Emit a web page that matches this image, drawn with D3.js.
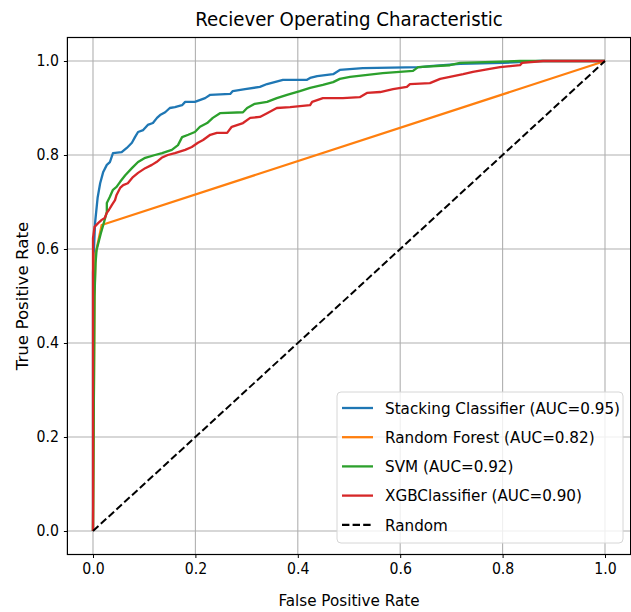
<!DOCTYPE html>
<html>
<head>
<meta charset="utf-8">
<script src="https://cdn.jsdelivr.net/npm/d3@7"></script>
<style>
    body { margin: 0; background: #fff; }
    svg text { font-family: "DejaVu Sans", sans-serif; fill: #000; }
</style>
</head>
<body>
<svg id="vis" width="631" height="612"></svg>
<script>
/**
 * ROC curves for four classifiers plus the chance diagonal
 */

// plot box edges in px
const MARGINS = {top: 37.5, right: 0.4, bottom: 57.5, left: 67.4};

// horizontal text narrowing, the figure is squeezed sideways
const TEXT_SQUEEZE = 0.91;

const TICKS = [0, 0.2, 0.4, 0.6, 0.8, 1.0];

// fpr / tpr pairs per model
const STACKING_FPR = [0, 0, 0.004, 0.009, 0.014, 0.020, 0.027, 0.033, 0.039, 0.056, 0.066, 0.076, 0.082, 0.088, 0.098, 0.107, 0.117, 0.125, 0.131, 0.141, 0.150, 0.160, 0.174, 0.180, 0.199, 0.219, 0.229, 0.268, 0.273, 0.297, 0.326, 0.340, 0.371, 0.418, 0.424, 0.438, 0.469, 0.482, 0.527, 0.639, 0.658, 0.717, 0.801, 0.873, 1];
const STACKING_TPR = [0, 0.55, 0.655, 0.709, 0.740, 0.764, 0.779, 0.785, 0.804, 0.806, 0.815, 0.826, 0.838, 0.849, 0.853, 0.864, 0.868, 0.879, 0.885, 0.891, 0.900, 0.902, 0.906, 0.913, 0.913, 0.921, 0.928, 0.930, 0.936, 0.940, 0.945, 0.951, 0.960, 0.960, 0.964, 0.968, 0.972, 0.981, 0.985, 0.987, 0.989, 0.994, 0.996, 1.0, 1];

const FOREST_FPR = [0, 0.003, 0.005, 0.017, 1];
const FOREST_TPR = [0, 0.50, 0.59, 0.651, 1];

const SVM_FPR = [0, 0.003, 0.005, 0.007, 0.012, 0.016, 0.020, 0.027, 0.027, 0.033, 0.039, 0.046, 0.053, 0.063, 0.076, 0.088, 0.102, 0.121, 0.135, 0.154, 0.166, 0.174, 0.186, 0.199, 0.209, 0.223, 0.234, 0.248, 0.293, 0.301, 0.316, 0.340, 0.359, 0.379, 0.404, 0.424, 0.449, 0.469, 0.482, 0.502, 0.566, 0.625, 0.635, 0.697, 0.717, 0.834, 1];
const SVM_TPR = [0, 0.50, 0.570, 0.598, 0.619, 0.636, 0.651, 0.679, 0.698, 0.711, 0.726, 0.732, 0.743, 0.757, 0.772, 0.785, 0.794, 0.800, 0.804, 0.811, 0.821, 0.838, 0.843, 0.849, 0.860, 0.868, 0.879, 0.889, 0.891, 0.900, 0.909, 0.913, 0.921, 0.928, 0.936, 0.943, 0.949, 0.955, 0.962, 0.966, 0.974, 0.979, 0.987, 0.991, 0.996, 1.0, 1];

const XGB_FPR = [0, 0, 0.003, 0.010, 0.017, 0.023, 0.027, 0.031, 0.037, 0.043, 0.046, 0.053, 0.059, 0.068, 0.078, 0.088, 0.102, 0.115, 0.124, 0.134, 0.146, 0.160, 0.180, 0.193, 0.205, 0.215, 0.229, 0.242, 0.262, 0.271, 0.293, 0.307, 0.326, 0.340, 0.359, 0.385, 0.424, 0.428, 0.449, 0.488, 0.521, 0.535, 0.561, 0.586, 0.613, 0.619, 0.658, 0.678, 0.697, 0.723, 0.742, 0.775, 0.795, 0.834, 0.838, 0.879, 1];
const XGB_TPR = [0, 0.623, 0.647, 0.655, 0.662, 0.666, 0.677, 0.683, 0.694, 0.704, 0.715, 0.730, 0.736, 0.740, 0.753, 0.762, 0.772, 0.779, 0.785, 0.794, 0.800, 0.804, 0.811, 0.817, 0.826, 0.832, 0.843, 0.847, 0.847, 0.860, 0.868, 0.879, 0.881, 0.889, 0.900, 0.902, 0.906, 0.913, 0.921, 0.921, 0.923, 0.932, 0.934, 0.940, 0.945, 0.951, 0.953, 0.962, 0.966, 0.972, 0.977, 0.983, 0.987, 0.991, 0.996, 1.0, 1];

const RANDOM_FPR = [0, 1];
const RANDOM_TPR = [0, 1];

const SERIES_NAMES = ["Stacking Classifier", "Random Forest", "SVM", "XGBClassifier"];
const SERIES_AUC = [0.95, 0.82, 0.92, 0.90];
const COLORS = ["#1f77b4", "#ff7f0e", "#2ca02c", "#d62728"];

/**
 * Narrow each text horizontally around its own x anchor
 */
function squeeze(sel){
    sel.each(function(){
        var t = d3.select(this);
        var x = +t.attr("x") || 0;
        t.attr("transform", `translate(${x * (1 - TEXT_SQUEEZE)},0) scale(${TEXT_SQUEEZE},1)`);
    });
}

var RocChart = function(){
    this.width = 631;
    this.height = 612;
    this.svgContainer;

    this.xScale;
    this.yScale;

    this.setupScales = function(){
        this.xScale = d3.scaleLinear()
            .domain([-0.05, 1.05])
            .range([MARGINS.left, this.width - MARGINS.right]);
        this.yScale = d3.scaleLinear()
            .domain([-0.05, 1.05])
            .range([this.height - MARGINS.bottom, MARGINS.top]);
    };

    this.setupAxes = function(){
        var plotW = this.width - MARGINS.left - MARGINS.right;
        var plotH = this.height - MARGINS.top - MARGINS.bottom;

        // grid lines sit under the curves
        var grid = this.svgContainer.append("g").attr("class", "grid");
        grid.selectAll("line.gx")
            .data(TICKS)
            .enter().append("line")
            .attr("x1", d => this.xScale(d)).attr("x2", d => this.xScale(d))
            .attr("y1", MARGINS.top).attr("y2", this.height - MARGINS.bottom)
            .style("stroke", "#b0b0b0").style("stroke-width", 1.1);
        grid.selectAll("line.gy")
            .data(TICKS)
            .enter().append("line")
            .attr("y1", d => this.yScale(d)).attr("y2", d => this.yScale(d))
            .attr("x1", MARGINS.left).attr("x2", this.width - MARGINS.right)
            .style("stroke", "#b0b0b0").style("stroke-width", 1.1);

        var xAxis = d3.axisBottom(this.xScale)
            .tickValues(TICKS)
            .tickFormat(d3.format(".1f"))
            .tickSize(3.5)
            .tickPadding(5);
        var yAxis = d3.axisLeft(this.yScale)
            .tickValues(TICKS)
            .tickFormat(d3.format(".1f"))
            .tickSize(3.5)
            .tickPadding(5);

        var gx = this.svgContainer.append("g")
            .attr("transform", `translate(0, ${this.height - MARGINS.bottom})`)
            .call(xAxis);
        var gy = this.svgContainer.append("g")
            .attr("transform", `translate(${MARGINS.left}, 0)`)
            .call(yAxis);
        [gx, gy].forEach(function(g){
            g.select(".domain").remove();
            g.selectAll("text").style("font-size", "15.5px").call(squeeze);
            g.selectAll("line").style("stroke", "#000").style("stroke-width", 1);
        });

        // axes frame
        this.svgContainer.append("rect")
            .attr("x", MARGINS.left).attr("y", MARGINS.top)
            .attr("width", plotW).attr("height", plotH)
            .style("fill", "none").style("stroke", "#000").style("stroke-width", 1.2)
            .attr("class", "frame");

        this.svgContainer.append("text")
            .attr("x", MARGINS.left + plotW / 2)
            .attr("y", 26)
            .style("text-anchor", "middle")
            .style("font-size", "20px")
            .text("Reciever Operating Characteristic")
            .call(squeeze);
        this.svgContainer.append("text")
            .attr("x", MARGINS.left + plotW / 2)
            .attr("y", 606)
            .style("text-anchor", "middle")
            .style("font-size", "16.7px")
            .text("False Positive Rate")
            .call(squeeze);
        this.svgContainer.append("text")
            .attr("transform", `translate(28, ${MARGINS.top + plotH / 2}) rotate(-90)`)
            .style("text-anchor", "middle")
            .style("font-size", "16.7px")
            .text("True Positive Rate");
    };

    this.createLines = function(){
        var x = this.xScale, y = this.yScale;
        var line = d3.line()
            .x(d => x(d[0]))
            .y(d => y(d[1]));

        var series = [
            [STACKING_FPR, STACKING_TPR],
            [FOREST_FPR, FOREST_TPR],
            [SVM_FPR, SVM_TPR],
            [XGB_FPR, XGB_TPR]
        ];
        series.forEach((s, i) => {
            this.svgContainer.append("path")
                .datum(d3.zip(s[0], s[1]))
                .attr("d", line)
                .style("fill", "none")
                .style("stroke", COLORS[i])
                .style("stroke-width", 2.3)
                .style("stroke-linejoin", "round");
        });

        this.svgContainer.append("path")
            .datum(d3.zip(RANDOM_FPR, RANDOM_TPR))
            .attr("d", line)
            .style("fill", "none")
            .style("stroke", "#000")
            .style("stroke-width", 2)
            .style("stroke-dasharray", "7.4,3.2");
    };

    this.setupLegend = function(){
        var labels = SERIES_NAMES.map((n, i) => `${n} (AUC=${SERIES_AUC[i].toFixed(2)})`);
        labels.push("Random");

        var legend = this.svgContainer.append("g")
            .attr("class", "legend")
            .attr("transform", "translate(337, 392)");
        legend.append("rect")
            .attr("width", 286).attr("height", 151)
            .attr("rx", 4).attr("ry", 4)
            .style("fill", "#fff").style("fill-opacity", 0.8)
            .style("stroke", "#d6d6d6").style("stroke-width", 1);

        var rows = legend.selectAll("g.row")
            .data(labels)
            .enter().append("g")
            .attr("transform", (d, i) => `translate(0, ${16 + i * 29.2})`);
        rows.append("line")
            .attr("x1", 5).attr("x2", 36)
            .style("stroke", (d, i) => i < 4 ? COLORS[i] : "#000")
            .style("stroke-width", 2.3)
            .style("stroke-dasharray", (d, i) => i < 4 ? null : "7.4,3.2");
        rows.append("text")
            .attr("x", 48)
            .attr("dy", "0.35em")
            .style("font-size", "16.7px")
            .text(d => d)
            .call(squeeze);
    };
};

var _vis;

function setup(){
    _vis = new RocChart();
    _vis.svgContainer = d3.select("#vis");
    _vis.setupScales();
    _vis.setupAxes();
    _vis.createLines();
    _vis.setupLegend();
}

window.onload = function(){
    setup();
};
</script>
</body>
</html>
